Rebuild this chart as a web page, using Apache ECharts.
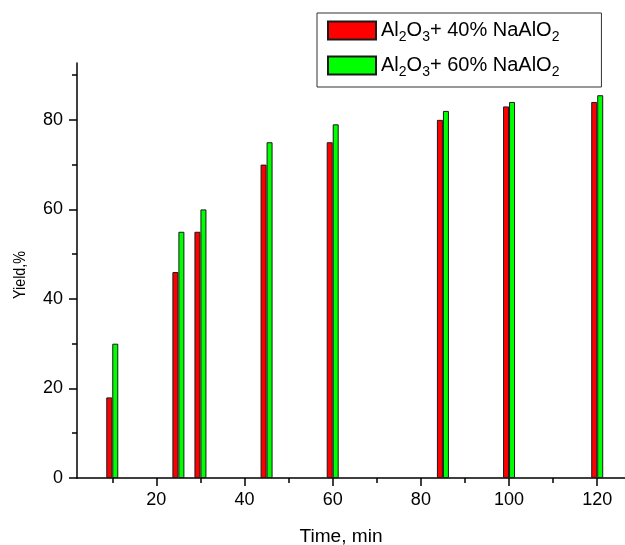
<!DOCTYPE html>
<html><head><meta charset="utf-8">
<script src="https://cdn.jsdelivr.net/npm/echarts@6/dist/echarts.min.js"></script>
<style>html,body{margin:0;padding:0;background:#fff}#c{width:625px;height:545px}</style>
</head><body><div id="c"></div>
<script>
// Data (time in min, yield in %)
const times = [10, 25, 30, 45, 60, 85, 100, 120];
const yield40 = [18, 46, 55, 70, 75, 80, 83, 84];
const yield60 = [30, 55, 60, 75, 79, 82, 84, 85.5];
const seriesNames = ['Al2O3+ 40% NaAlO2', 'Al2O3+ 60% NaAlO2'];
const legendRichText = ['{n|Al}{s|2}{n|O}{s|3}{n|+ 40% NaAlO}{s|2}', '{n|Al}{s|2}{n|O}{s|3}{n|+ 60% NaAlO}{s|2}'];
const xTicks = [20, 40, 60, 80, 100, 120];
const yTicks = [0, 20, 40, 60, 80];
const xTitle = 'Time, min';
const yTitle = 'Yield,%';

const FONT = 'Liberation Sans, Arial, sans-serif';
const chart = echarts.init(document.getElementById('c'), null, {renderer: 'canvas'});
const axisCommon = {
  axisLine: {lineStyle: {color: '#000', width: 1.5}},
  minorTick: {show: true, splitNumber: 2, length: 5, lineStyle: {color: '#000', width: 1.5}},
  splitLine: {show: false},
  minorSplitLine: {show: false}
};
chart.setOption({
  animation: false,
  backgroundColor: '#fff',
  grid: {left: 77, top: 63, right: 0, bottom: 67, containLabel: false},
  xAxis: Object.assign({}, axisCommon, {
    type: 'value', min: 2, max: 126.3,
    axisTick: {customValues: xTicks, length: 8, lineStyle: {color: '#000', width: 1.5}},
    axisLabel: {customValues: xTicks, margin: 13, fontSize: 18, color: '#000', fontFamily: FONT}
  }),
  yAxis: Object.assign({}, axisCommon, {
    type: 'value', min: 0, max: 92.7, interval: 20,
    axisTick: {customValues: yTicks, length: 8, lineStyle: {color: '#000', width: 1.5}},
    axisLabel: {customValues: yTicks, margin: 14, fontSize: 18, color: '#000', fontFamily: FONT}
  }),
  legend: {
    orient: 'vertical', left: 317, top: 13,
    padding: [4, 42, 8, 10],
    itemGap: 8,
    itemWidth: 48, itemHeight: 18,
    borderColor: '#333', borderWidth: 1,
    icon: 'rect',
    data: seriesNames,
    formatter: function (name) { return legendRichText[seriesNames.indexOf(name)]; },
    textStyle: {
      color: '#000',
      rich: {
        n: {fontSize: 20, fontFamily: FONT, color: '#000'},
        s: {fontSize: 14, lineHeight: 14, padding: [13, 0, 0, 0], fontFamily: FONT, color: '#000'}
      }
    }
  },
  graphic: [
    {type: 'text', x: 341, y: 537, scaleX: 1.06, style: {text: xTitle, fontSize: 18, fontFamily: FONT, fill: '#000', textAlign: 'center', textVerticalAlign: 'middle'}},
    {type: 'text', x: 20, y: 275, rotation: Math.PI / 2, scaleX: 0.84, style: {text: yTitle, fontSize: 17, fontFamily: FONT, fill: '#000', textAlign: 'center', textVerticalAlign: 'middle'}}
  ],
  series: [
    {
      name: seriesNames[0], type: 'bar', barWidth: 6, barGap: '0%',
      itemStyle: {color: '#ff0000', borderColor: '#1a1a1a', borderWidth: 1},
      data: times.map((t, i) => [t, yield40[i]])
    },
    {
      name: seriesNames[1], type: 'bar', barWidth: 6, barGap: '0%',
      itemStyle: {color: '#00ff00', borderColor: '#1a1a1a', borderWidth: 1},
      data: times.map((t, i) => [t, yield60[i]])
    }
  ]
});
</script></body></html>
